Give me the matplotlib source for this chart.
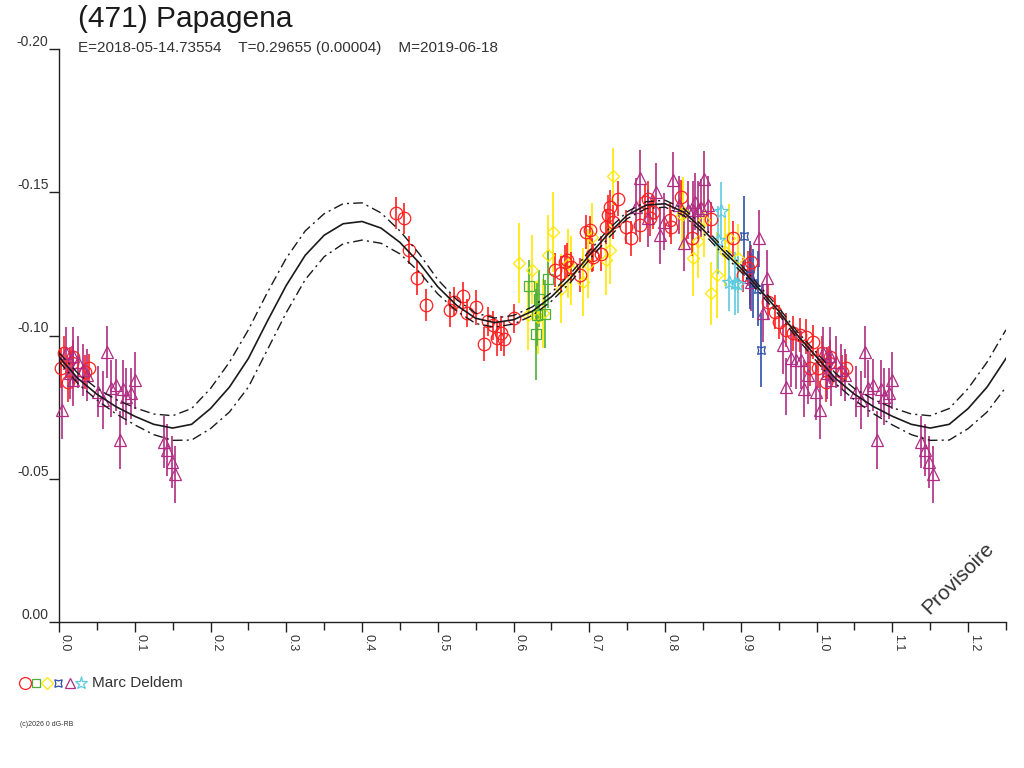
import numpy as np
import matplotlib
matplotlib.use("Agg")
import matplotlib.pyplot as plt
from matplotlib.lines import Line2D
from matplotlib.ticker import MultipleLocator

plt.rcParams.update({
    "font.family": ["Liberation Sans", "DejaVu Sans"],
    "font.size": 10,
})

TITLE = "(471) Papagena"
SUBTITLE = "E=2018-05-14.73554    T=0.29655 (0.00004)    M=2019-06-18"
OBSERVER = "Marc Deldem"

# ---- fitted curve (one period, phase step 0.025) ----
fit_phase = [0.000, 0.025, 0.050, 0.075, 0.100, 0.125, 0.150, 0.175, 0.200, 0.225,
             0.250, 0.275, 0.300, 0.325, 0.350, 0.375, 0.400, 0.425, 0.450, 0.475,
             0.500, 0.525, 0.550, 0.575, 0.600, 0.625, 0.650, 0.675, 0.700, 0.725,
             0.750, 0.775, 0.800, 0.825, 0.850, 0.875, 0.900, 0.925, 0.950, 0.975,
             1.000]
fit_mag = [-0.0925, -0.0850, -0.0795, -0.0752, -0.0718, -0.0690, -0.0677, -0.0690, -0.0745, -0.0820,
           -0.0920, -0.1050, -0.1175, -0.1280, -0.1350, -0.1390, -0.1398, -0.1375, -0.1325, -0.1255,
           -0.1170, -0.1105, -0.1060, -0.1045, -0.1055, -0.1085, -0.1135, -0.1200, -0.1280, -0.1355,
           -0.1420, -0.1455, -0.1460, -0.1430, -0.1370, -0.1300, -0.1235, -0.1160, -0.1085, -0.1000,
           -0.0925]
fit_upper = [-0.0940, -0.0868, -0.0815, -0.0777, -0.0748, -0.0726, -0.0720, -0.0745, -0.0815, -0.0907,
             -0.1020, -0.1150, -0.1270, -0.1365, -0.1425, -0.1460, -0.1463, -0.1428, -0.1365, -0.1287,
             -0.1195, -0.1125, -0.1078, -0.1061, -0.1070, -0.1100, -0.1150, -0.1215, -0.1295, -0.1370,
             -0.1432, -0.1467, -0.1472, -0.1442, -0.1382, -0.1312, -0.1247, -0.1172, -0.1097, -0.1012,
             -0.0940]
fit_lower = [-0.0910, -0.0832, -0.0775, -0.0727, -0.0688, -0.0654, -0.0634, -0.0635, -0.0675, -0.0733,
             -0.0820, -0.0950, -0.1080, -0.1195, -0.1275, -0.1320, -0.1333, -0.1322, -0.1285, -0.1223,
             -0.1145, -0.1085, -0.1042, -0.1029, -0.1040, -0.1070, -0.1120, -0.1185, -0.1265, -0.1340,
             -0.1408, -0.1443, -0.1448, -0.1418, -0.1358, -0.1288, -0.1223, -0.1148, -0.1073, -0.0988,
             -0.0910]

# ---- observations (phase, magnitude, error) per symbol ----
red_phase = [0.002, 0.007, 0.012, 0.017, 0.018, 0.034, 0.039,
             0.445, 0.456, 0.462, 0.473, 0.484, 0.516, 0.521, 0.533, 0.539, 0.550,
             0.561, 0.566, 0.573, 0.578, 0.584, 0.588, 0.600, 0.655, 0.663, 0.668,
             0.670, 0.676, 0.688, 0.696, 0.701, 0.703, 0.705, 0.716, 0.722, 0.725,
             0.727, 0.731, 0.738, 0.749, 0.755, 0.767, 0.773, 0.777, 0.780, 0.784,
             0.806, 0.808, 0.821, 0.835, 0.861, 0.890, 0.903, 0.909, 0.914, 0.936,
             0.945, 0.951, 0.960, 0.969, 0.978, 0.986, 0.991, 0.995]
red_mag = [-0.0887, -0.0938, -0.0838, -0.0904, -0.0926, -0.0873, -0.0887,
           -0.1428, -0.1409, -0.1298, -0.1200, -0.1106, -0.1089, -0.1118, -0.1137, -0.1079, -0.1098,
           -0.0970, -0.1050, -0.1036, -0.0990, -0.1007, -0.0987, -0.1060, -0.1228, -0.1217, -0.1257,
           -0.1263, -0.1240, -0.1211, -0.1362, -0.1368, -0.1280, -0.1275, -0.1286, -0.1380, -0.1420,
           -0.1449, -0.1397, -0.1478, -0.1379, -0.1339, -0.1385, -0.1467, -0.1478, -0.1409, -0.1432,
           -0.1403, -0.1379, -0.1484, -0.1339, -0.1405, -0.1339, -0.1211, -0.1234, -0.1257, -0.1118,
           -0.1083, -0.1048, -0.1019, -0.1007, -0.1001, -0.0996, -0.0885, -0.0978]
red_err = [0.007, 0.006, 0.007, 0.006, 0.006, 0.006, 0.005,
           0.0055, 0.0055, 0.005, 0.006, 0.0055, 0.006, 0.005, 0.005, 0.005, 0.006,
           0.006, 0.005, 0.005, 0.006, 0.006, 0.006, 0.005, 0.006, 0.006, 0.006,
           0.006, 0.005, 0.006, 0.006, 0.005, 0.006, 0.005, 0.006, 0.006, 0.007,
           0.006, 0.006, 0.006, 0.006, 0.006, 0.006, 0.006, 0.006, 0.006, 0.006,
           0.006, 0.006, 0.006, 0.006, 0.006, 0.006, 0.006, 0.006, 0.006, 0.006,
           0.006, 0.006, 0.006, 0.006, 0.006, 0.006, 0.006, 0.006]

green_phase = [0.620, 0.629, 0.631, 0.634, 0.641, 0.645]
green_mag = [-0.1172, -0.1004, -0.1073, -0.1129, -0.1075, -0.1196]
green_err = [0.009, 0.016, 0.011, 0.010, 0.012, 0.010]

yellow_phase = [0.607, 0.619, 0.624, 0.630, 0.632, 0.639, 0.646, 0.652, 0.663, 0.672,
                0.676, 0.692, 0.698, 0.703, 0.722, 0.727, 0.731, 0.822, 0.824, 0.837,
                0.844, 0.852, 0.861, 0.868, 0.879, 0.885, 0.896]
yellow_mag = [-0.1252, -0.1070, -0.1230, -0.1070, -0.1065, -0.1077, -0.1280, -0.1360, -0.1164, -0.1251,
              -0.1228, -0.1187, -0.1251, -0.1344, -0.1263, -0.1300, -0.1556, -0.1420, -0.1432, -0.1269,
              -0.1330, -0.1403, -0.1147, -0.1211, -0.1292, -0.1339, -0.1269]
yellow_err = [0.014, 0.012, 0.012, 0.012, 0.013, 0.012, 0.014, 0.014, 0.012, 0.012,
              0.012, 0.012, 0.012, 0.012, 0.012, 0.012, 0.010, 0.012, 0.012, 0.013,
              0.013, 0.013, 0.011, 0.015, 0.012, 0.012, 0.012]

blue_phase = [0.904, 0.912, 0.916, 0.923, 0.926]
blue_mag = [-0.1347, -0.1211, -0.1182, -0.1164, -0.0949]
blue_err = [0.014, 0.012, 0.012, 0.013, 0.013]

purple_phase = [0.004, 0.009, 0.014, 0.018, 0.019, 0.025, 0.032, 0.037, 0.052, 0.058,
                0.064, 0.068, 0.075, 0.080, 0.085, 0.089, 0.095, 0.100, 0.138, 0.143,
                0.149, 0.153, 0.762, 0.767, 0.777, 0.788, 0.793, 0.799, 0.810, 0.819,
                0.825, 0.830, 0.837, 0.840, 0.843, 0.847, 0.851, 0.857, 0.912, 0.914,
                0.924, 0.929, 0.934, 0.956, 0.960, 0.966, 0.973, 0.980, 0.983, 0.988,
                0.9995]
purple_mag = [-0.0740, -0.0940, -0.0870, -0.0930, -0.0844, -0.0908, -0.0880, -0.0862, -0.0804, -0.0775,
              -0.0943, -0.0816, -0.0827, -0.0635, -0.0815, -0.0786, -0.0798, -0.0844, -0.0629, -0.0600,
              -0.0559, -0.0516, -0.1450, -0.1548, -0.1409, -0.1502, -0.1350, -0.1397, -0.1542, -0.1455,
              -0.1324, -0.1438, -0.1438, -0.1467, -0.1438, -0.1445, -0.1545, -0.1457, -0.1205, -0.1187,
              -0.1339, -0.1077, -0.1200, -0.0967, -0.0821, -0.0920, -0.0914, -0.0914, -0.0815, -0.0862,
              -0.0804]
purple_err = [0.010, 0.009, 0.009, 0.010, 0.009, 0.009, 0.009, 0.009, 0.009, 0.010,
              0.009, 0.010, 0.009, 0.010, 0.010, 0.010, 0.009, 0.010, 0.009, 0.009,
              0.009, 0.010, 0.010, 0.010, 0.010, 0.010, 0.010, 0.010, 0.010, 0.010,
              0.010, 0.010, 0.010, 0.010, 0.010, 0.010, 0.010, 0.010, 0.010, 0.010,
              0.010, 0.010, 0.010, 0.010, 0.010, 0.010, 0.010, 0.010, 0.010, 0.010,
              0.010]

cyan_phase = [0.870, 0.874, 0.885, 0.892, 0.896]
cyan_mag = [-0.1333, -0.1435, -0.1187, -0.1182, -0.1179]
cyan_err = [0.012, 0.010, 0.010, 0.011, 0.010]

xtick_values = [0.0, 0.1, 0.2, 0.3, 0.4, 0.5, 0.6, 0.7, 0.8, 0.9, 1.0, 1.1, 1.2]
xtick_labels = ["0.0", "0.1", "0.2", "0.3", "0.4", "0.5", "0.6", "0.7", "0.8", "0.9", "1.0", "1.1", "1.2"]
ytick_values = [-0.20, -0.15, -0.10, -0.05, 0.00]
ytick_labels = ["-0.20", "-0.15", "-0.10", "-0.05", "0.00"]

X_MAX = 1.25

BLUE_MARKER = (4, 1, 45)
series = [
    # phase, mag, err, color, marker, size
    (yellow_phase, yellow_mag, yellow_err, "#ffe800", "D", 6.5),
    (green_phase, green_mag, green_err, "#4caf3a", "s", 6.5),
    (red_phase, red_mag, red_err, "#ff2020", "o", 9),
    (purple_phase, purple_mag, purple_err, "#b02c82", "^", 8),
    (blue_phase, blue_mag, blue_err, "#2f4fa8", BLUE_MARKER, 8),
    (cyan_phase, cyan_mag, cyan_err, "#5ccbe0", "*", 10),
]


def wrap(phase, mag, err):
    # the light curve is shown over 1.25 periods: repeat the start of the phase
    ph, mg, er = list(phase), list(mag), list(err)
    for p, m, e in zip(phase, mag, err):
        if p + 1.0 <= X_MAX:
            ph.append(p + 1.0)
            mg.append(m)
            er.append(e)
    return np.array(ph), np.array(mg), np.array(er)


fig = plt.figure(figsize=(10.24, 7.68), dpi=100)
ax = fig.add_axes([59 / 1024, 1 - 622 / 768, 947 / 1024, 573 / 768])

# fit and envelope, shown over phase 0 .. 1.25
curve_phase = np.array(fit_phase[:-1] + [p + 1.0 for p in fit_phase if p + 1.0 <= X_MAX])
n_extra = len(curve_phase) - (len(fit_phase) - 1)
curve_mag = np.array(fit_mag[:-1] + fit_mag[:n_extra])
curve_up = np.array(fit_upper[:-1] + fit_upper[:n_extra])
curve_lo = np.array(fit_lower[:-1] + fit_lower[:n_extra])

ax.plot(curve_phase, curve_mag, color="#1a1a1a", lw=1.2, zorder=5)
for env in (curve_up, curve_lo):
    ax.plot(curve_phase, env, color="#1a1a1a", lw=1.0, dashes=(7, 3, 1.5, 3), zorder=5)

for phase, mag, err, color, marker, size in series:
    ph, mg, er = wrap(phase, mag, err)
    ax.errorbar(ph, mg, yerr=er, fmt="none", ecolor=color, elinewidth=1.2,
                capsize=0, zorder=3, clip_on=False)
    ax.plot(ph, mg, linestyle="none", marker=marker, markersize=size,
            markerfacecolor="none", markeredgecolor=color, markeredgewidth=0.9,
            zorder=4, clip_on=False)

ax.set_xlim(0, X_MAX)
ax.set_ylim(0.0, -0.20)

ax.spines["top"].set_visible(False)
ax.spines["right"].set_visible(False)
for side in ("left", "bottom"):
    ax.spines[side].set_color("#202020")
    ax.spines[side].set_linewidth(1.0)

ax.set_xticks(xtick_values)
ax.set_xticklabels(xtick_labels, rotation=-90, ha="left", va="top", fontsize=9, color="#333333")
ax.xaxis.set_minor_locator(MultipleLocator(0.05))
ax.tick_params(axis="x", which="major", direction="out", length=7.5, width=1.0,
               color="#202020", pad=1)
ax.tick_params(axis="x", which="minor", direction="out", length=6, width=1.0, color="#202020")

ax.set_yticks(ytick_values)
ax.set_yticklabels(ytick_labels, fontsize=10, color="#333333")
ax.tick_params(axis="y", direction="out", length=7.5, width=1.0, color="#202020", pad=0)
for lab in ax.get_yticklabels():
    lab.set_verticalalignment("bottom")

# titles
fig.text(78 / 1024, 1 - 19 / 768, TITLE, fontsize=21.5, color="#1a1a1a", va="center", ha="left")
fig.text(78 / 1024, 1 - 48 / 768, SUBTITLE, fontsize=11, color="#333333", va="center", ha="left")

# watermark
fig.text(958 / 1024, 1 - 578 / 768, "Provisoire", fontsize=15, color="#333333",
         rotation=45, ha="center", va="center")

# observer legend
legend_x = [25, 36, 47, 58, 70, 81]
for x, (_, _, _, color, marker, size) in zip(legend_x, [series[2], series[1], series[0],
                                                       series[4], series[3], series[5]]):
    fig.add_artist(Line2D([x / 1024], [1 - 683 / 768], transform=fig.transFigure,
                          linestyle="none", marker=marker, markersize=size * 0.95,
                          markerfacecolor="none", markeredgecolor=color, markeredgewidth=0.9))
fig.text(92 / 1024, 1 - 683 / 768, OBSERVER, fontsize=11, color="#333333", va="center", ha="left")

fig.text(20 / 1024, 1 - 724 / 768, "(c)2026 0 dG-RB", fontsize=5, color="#333333",
         va="center", ha="left")

fig.savefig("out.png", dpi=100)
